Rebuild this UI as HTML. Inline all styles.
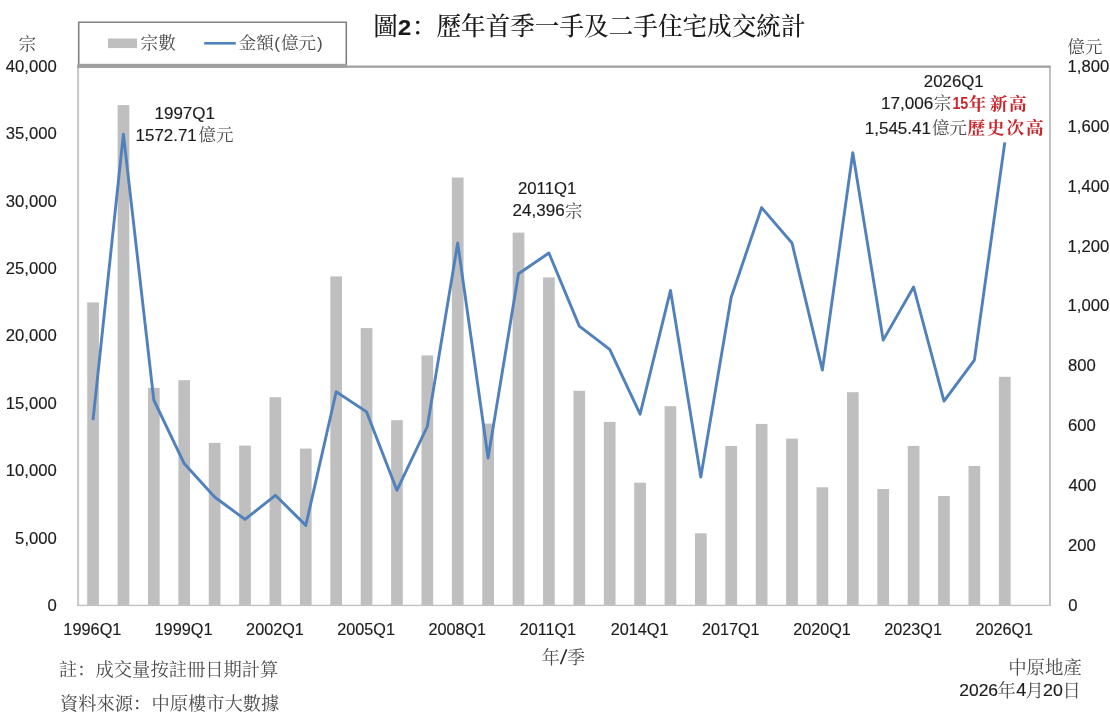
<!DOCTYPE html>
<html><head><meta charset="utf-8"><title>chart</title>
<style>
html,body{margin:0;padding:0;background:#fff;}
body{width:1110px;height:716px;overflow:hidden;font-family:"Liberation Sans",sans-serif;}
svg{display:block;filter:blur(0.45px);}
svg text{font-family:"Liberation Sans",sans-serif;}
svg text.cj{font-family:"Liberation Serif","Noto Serif CJK SC","Noto Sans CJK TC",serif;}
</style></head><body>
<svg width="1110" height="716" viewBox="0 0 1110 716">
<rect x="0" y="0" width="1110" height="716" fill="#fff"/>
<rect x="87.20" y="302.4" width="11.7" height="302.9" fill="#bfbfbf"/>
<rect x="117.59" y="105.1" width="11.7" height="500.2" fill="#bfbfbf"/>
<rect x="147.98" y="387.8" width="11.7" height="217.5" fill="#bfbfbf"/>
<rect x="178.37" y="380.2" width="11.7" height="225.1" fill="#bfbfbf"/>
<rect x="208.76" y="442.9" width="11.7" height="162.4" fill="#bfbfbf"/>
<rect x="239.15" y="445.6" width="11.7" height="159.7" fill="#bfbfbf"/>
<rect x="269.54" y="397.2" width="11.7" height="208.1" fill="#bfbfbf"/>
<rect x="299.93" y="448.6" width="11.7" height="156.7" fill="#bfbfbf"/>
<rect x="330.32" y="276.4" width="11.7" height="328.9" fill="#bfbfbf"/>
<rect x="360.71" y="328.1" width="11.7" height="277.2" fill="#bfbfbf"/>
<rect x="391.10" y="420.2" width="11.7" height="185.1" fill="#bfbfbf"/>
<rect x="421.49" y="355.4" width="11.7" height="249.9" fill="#bfbfbf"/>
<rect x="451.88" y="177.5" width="11.7" height="427.8" fill="#bfbfbf"/>
<rect x="482.27" y="423.6" width="11.7" height="181.7" fill="#bfbfbf"/>
<rect x="512.66" y="232.6" width="11.7" height="372.7" fill="#bfbfbf"/>
<rect x="543.05" y="277.4" width="11.7" height="327.9" fill="#bfbfbf"/>
<rect x="573.44" y="390.8" width="11.7" height="214.5" fill="#bfbfbf"/>
<rect x="603.83" y="421.9" width="11.7" height="183.4" fill="#bfbfbf"/>
<rect x="634.22" y="482.7" width="11.7" height="122.6" fill="#bfbfbf"/>
<rect x="664.61" y="406.2" width="11.7" height="199.1" fill="#bfbfbf"/>
<rect x="695.00" y="533.3" width="11.7" height="72.0" fill="#bfbfbf"/>
<rect x="725.39" y="445.9" width="11.7" height="159.4" fill="#bfbfbf"/>
<rect x="755.78" y="423.9" width="11.7" height="181.4" fill="#bfbfbf"/>
<rect x="786.17" y="438.6" width="11.7" height="166.7" fill="#bfbfbf"/>
<rect x="816.56" y="487.3" width="11.7" height="118.0" fill="#bfbfbf"/>
<rect x="846.95" y="392.2" width="11.7" height="213.1" fill="#bfbfbf"/>
<rect x="877.34" y="489.0" width="11.7" height="116.3" fill="#bfbfbf"/>
<rect x="907.73" y="445.9" width="11.7" height="159.4" fill="#bfbfbf"/>
<rect x="938.12" y="496.0" width="11.7" height="109.3" fill="#bfbfbf"/>
<rect x="968.51" y="466.0" width="11.7" height="139.3" fill="#bfbfbf"/>
<rect x="998.90" y="376.8" width="11.7" height="228.5" fill="#bfbfbf"/>
<rect x="77.1" y="66" width="2" height="540" fill="#c8c8c8"/>
<rect x="1049.0" y="66" width="1.9" height="540" fill="#bebebe"/>
<rect x="77.1" y="604.7" width="973.4" height="1.4" fill="#c2c2c2"/>
<rect x="77.1" y="65.5" width="973.4" height="2.3" fill="#a0a0a0"/>
<path d="M78.7,65 V22.3 H346.3 V65" fill="none" stroke="#808080" stroke-width="1.6"/>
<rect x="77.4" y="63.8" width="269.7" height="4.0" fill="#a0a0a0"/>
<rect x="108" y="38.5" width="29" height="9.6" fill="#bfbfbf"/>
<line x1="204.2" y1="43.3" x2="235.8" y2="43.3" stroke="#4f81bd" stroke-width="2.6"/>
<polyline points="93.0,420.2 123.4,134.1 153.8,400.0 184.2,463.6 214.6,497.0 245.0,519.4 275.4,495.3 305.8,525.4 336.2,391.8 366.6,411.9 396.9,490.3 427.3,426.5 457.7,243.0 488.1,458.0 518.5,273.7 548.9,253.0 579.3,326.1 609.7,349.4 640.1,414.2 670.5,290.4 700.8,477.0 731.2,297.3 761.6,207.6 792.0,243.0 822.4,370.1 852.8,152.8 883.2,340.1 913.6,287.0 944.0,401.2 974.4,360.1 1004.8,142.4" fill="none" stroke="#5081bc" stroke-width="2.9" stroke-linejoin="round" stroke-linecap="butt"/>
<text transform="translate(5.82 71.90) scale(1.0591 1)" font-size="15.75" fill="#1c1c1c" stroke="#1c1c1c" stroke-width="0.15">40,000</text>
<text transform="translate(5.82 139.28) scale(1.0591 1)" font-size="15.75" fill="#1c1c1c" stroke="#1c1c1c" stroke-width="0.15">35,000</text>
<text transform="translate(5.82 206.65) scale(1.0591 1)" font-size="15.75" fill="#1c1c1c" stroke="#1c1c1c" stroke-width="0.15">30,000</text>
<text transform="translate(5.82 274.02) scale(1.0591 1)" font-size="15.75" fill="#1c1c1c" stroke="#1c1c1c" stroke-width="0.15">25,000</text>
<text transform="translate(5.82 341.40) scale(1.0591 1)" font-size="15.75" fill="#1c1c1c" stroke="#1c1c1c" stroke-width="0.15">20,000</text>
<text transform="translate(5.82 408.77) scale(1.0591 1)" font-size="15.75" fill="#1c1c1c" stroke="#1c1c1c" stroke-width="0.15">15,000</text>
<text transform="translate(5.82 476.15) scale(1.0591 1)" font-size="15.75" fill="#1c1c1c" stroke="#1c1c1c" stroke-width="0.15">10,000</text>
<text transform="translate(15.10 543.52) scale(1.0591 1)" font-size="15.75" fill="#1c1c1c" stroke="#1c1c1c" stroke-width="0.15">5,000</text>
<text transform="translate(47.57 610.90) scale(1.0591 1)" font-size="15.75" fill="#1c1c1c" stroke="#1c1c1c" stroke-width="0.15">0</text>
<text transform="translate(1067.53 71.90) scale(1.0591 1)" font-size="15.75" fill="#1c1c1c" stroke="#1c1c1c" stroke-width="0.15">1,800</text>
<text transform="translate(1067.53 131.79) scale(1.0591 1)" font-size="15.75" fill="#1c1c1c" stroke="#1c1c1c" stroke-width="0.15">1,600</text>
<text transform="translate(1067.53 191.68) scale(1.0591 1)" font-size="15.75" fill="#1c1c1c" stroke="#1c1c1c" stroke-width="0.15">1,400</text>
<text transform="translate(1067.53 251.57) scale(1.0591 1)" font-size="15.75" fill="#1c1c1c" stroke="#1c1c1c" stroke-width="0.15">1,200</text>
<text transform="translate(1067.53 311.46) scale(1.0591 1)" font-size="15.75" fill="#1c1c1c" stroke="#1c1c1c" stroke-width="0.15">1,000</text>
<text transform="translate(1068.07 371.35) scale(1.0591 1)" font-size="15.75" fill="#1c1c1c" stroke="#1c1c1c" stroke-width="0.15">800</text>
<text transform="translate(1067.95 431.24) scale(1.0591 1)" font-size="15.75" fill="#1c1c1c" stroke="#1c1c1c" stroke-width="0.15">600</text>
<text transform="translate(1068.42 491.13) scale(1.0591 1)" font-size="15.75" fill="#1c1c1c" stroke="#1c1c1c" stroke-width="0.15">400</text>
<text transform="translate(1067.96 551.02) scale(1.0591 1)" font-size="15.75" fill="#1c1c1c" stroke="#1c1c1c" stroke-width="0.15">200</text>
<text transform="translate(1068.15 610.91) scale(1.0591 1)" font-size="15.75" fill="#1c1c1c" stroke="#1c1c1c" stroke-width="0.15">0</text>
<text transform="translate(63.36 635.20) scale(1.0371 1)" font-size="15.75" fill="#1c1c1c" stroke="#1c1c1c" stroke-width="0.15">1996Q1</text>
<text transform="translate(154.53 635.20) scale(1.0371 1)" font-size="15.75" fill="#1c1c1c" stroke="#1c1c1c" stroke-width="0.15">1999Q1</text>
<text transform="translate(246.12 635.20) scale(1.0294 1)" font-size="15.75" fill="#1c1c1c" stroke="#1c1c1c" stroke-width="0.15">2002Q1</text>
<text transform="translate(337.29 635.20) scale(1.0294 1)" font-size="15.75" fill="#1c1c1c" stroke="#1c1c1c" stroke-width="0.15">2005Q1</text>
<text transform="translate(428.46 635.20) scale(1.0294 1)" font-size="15.75" fill="#1c1c1c" stroke="#1c1c1c" stroke-width="0.15">2008Q1</text>
<text transform="translate(519.63 635.20) scale(1.0294 1)" font-size="15.75" fill="#1c1c1c" stroke="#1c1c1c" stroke-width="0.15">2011Q1</text>
<text transform="translate(610.80 635.20) scale(1.0294 1)" font-size="15.75" fill="#1c1c1c" stroke="#1c1c1c" stroke-width="0.15">2014Q1</text>
<text transform="translate(701.97 635.20) scale(1.0294 1)" font-size="15.75" fill="#1c1c1c" stroke="#1c1c1c" stroke-width="0.15">2017Q1</text>
<text transform="translate(793.14 635.20) scale(1.0294 1)" font-size="15.75" fill="#1c1c1c" stroke="#1c1c1c" stroke-width="0.15">2020Q1</text>
<text transform="translate(884.31 635.20) scale(1.0294 1)" font-size="15.75" fill="#1c1c1c" stroke="#1c1c1c" stroke-width="0.15">2023Q1</text>
<text transform="translate(975.48 635.20) scale(1.0294 1)" font-size="15.75" fill="#1c1c1c" stroke="#1c1c1c" stroke-width="0.15">2026Q1</text>
<text class="cj" x="18.60" y="49.94" font-size="17.6" fill="#4a4a4a">宗</text>
<text class="cj" x="1067.60" y="52.56" font-size="17.4" fill="#4a4a4a">億元</text>
<text class="cj" x="140.60" y="49.14" font-size="17.6" fill="#4a4a4a">宗數</text>
<text class="cj" x="238.60" y="49.14" font-size="17.6" fill="#4a4a4a">金額</text>
<text x="274.30" y="49.3" font-size="17" fill="#4a4a4a">(</text>
<text class="cj" x="281.00" y="49.14" font-size="17.6" fill="#4a4a4a">億元</text>
<text x="317.00" y="49.3" font-size="17" fill="#4a4a4a">)</text>
<text class="cj" x="541.70" y="663.88" font-size="18" fill="#4a4a4a">年</text>
<line x1="560.6" y1="664.3" x2="566.6" y2="649.3" stroke="#2a2a2a" stroke-width="1.7"/>
<text class="cj" x="566.90" y="664.08" font-size="18" fill="#4a4a4a">季</text>
<text class="cj" x="373.20" y="34.76" font-size="24.62" fill="#1a1a1a" font-weight="500">圖</text>
<text transform="translate(398.08 35.20) scale(1.0464 1)" font-size="22.63" fill="#1a1a1a" font-weight="bold" stroke="#1a1a1a" stroke-width="0.2">2</text>
<text class="cj" x="411.82" y="34.76" font-size="24.62" fill="#1a1a1a" font-weight="500">：歷年首季一手及二手住宅成交統計</text>
<text transform="translate(154.50 118.80) scale(1.0796 1)" font-size="15.75" fill="#1c1c1c" stroke="#1c1c1c" stroke-width="0.15">1997Q1</text>
<text transform="translate(135.61 140.60) scale(1.0732 1)" font-size="15.75" fill="#1c1c1c" stroke="#1c1c1c" stroke-width="0.15">1572.71</text>
<text class="cj" x="198.60" y="141.30" font-size="17.5" fill="#4a4a4a">億元</text>
<text transform="translate(517.96 193.80) scale(1.0642 1)" font-size="15.75" fill="#1c1c1c" stroke="#1c1c1c" stroke-width="0.15">2011Q1</text>
<text transform="translate(512.54 215.60) scale(1.0814 1)" font-size="15.75" fill="#1c1c1c" stroke="#1c1c1c" stroke-width="0.15">24,396</text>
<text class="cj" x="565.00" y="216.70" font-size="17.5" fill="#4a4a4a">宗</text>
<text transform="translate(923.85 87.10) scale(1.0679 1)" font-size="15.75" fill="#1c1c1c" stroke="#1c1c1c" stroke-width="0.15">2026Q1</text>
<text transform="translate(880.99 108.50) scale(1.0887 1)" font-size="15.75" fill="#1c1c1c" stroke="#1c1c1c" stroke-width="0.15">17,006</text>
<text class="cj" x="933.70" y="109.10" font-size="17.5" fill="#4a4a4a">宗</text>
<text transform="translate(952.40 108.60) scale(0.9021 1)" font-size="15.84" fill="#c8282c" font-weight="bold">15</text>
<text class="cj" x="968.70" y="109.54" font-size="17.6" fill="#c8282c" font-weight="bold">年</text>
<text class="cj" x="990.00" y="109.54" font-size="17.6" fill="#c8282c" font-weight="bold">新</text>
<text class="cj" x="1009.10" y="109.54" font-size="17.6" fill="#c8282c" font-weight="bold">高</text>
<text transform="translate(864.70 134.20) scale(1.0658 1)" font-size="15.99" fill="#1c1c1c" stroke="#1c1c1c" stroke-width="0.15">1,545.41</text>
<text class="cj" x="932.00" y="134.20" font-size="17.5" fill="#4a4a4a">億元</text>
<text class="cj" x="967.60" y="134.34" font-size="17.6" fill="#c8282c" font-weight="bold" textLength="76.1" lengthAdjust="spacing">歷史次高</text>
<text class="cj" x="59.00" y="675.59" font-size="18.3" fill="#4a4a4a">註：成交量按註冊日期計算</text>
<text class="cj" x="60.00" y="709.79" font-size="18.3" fill="#4a4a4a">資料來源：中原樓市大數據</text>
<text class="cj" x="1008.20" y="674.26" font-size="18.45" fill="#4a4a4a">中原地產</text>
<text transform="translate(959.22 695.90) scale(1.0160 1)" font-size="17.19" fill="#1c1c1c" stroke="#1c1c1c" stroke-width="0.15">2026</text>
<text class="cj" x="997.40" y="696.79" font-size="18.3" fill="#4a4a4a">年</text>
<text transform="translate(1016.19 695.90) scale(1.0354 1)" font-size="17.44" fill="#1c1c1c" stroke="#1c1c1c" stroke-width="0.15">4</text>
<text class="cj" x="1025.60" y="696.79" font-size="18.3" fill="#4a4a4a">月</text>
<text transform="translate(1043.11 695.90) scale(1.0352 1)" font-size="17.19" fill="#1c1c1c" stroke="#1c1c1c" stroke-width="0.15">20</text>
<text class="cj" x="1062.60" y="696.79" font-size="18.3" fill="#4a4a4a">日</text>
</svg>
</body></html>
